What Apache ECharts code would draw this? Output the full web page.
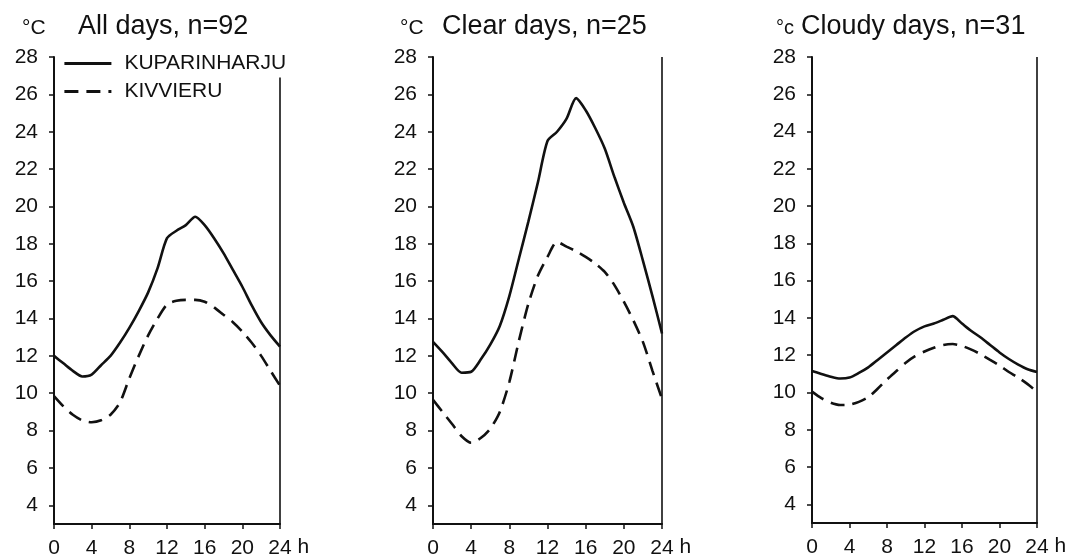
<!DOCTYPE html>
<html>
<head>
<meta charset="utf-8">
<script src="https://cdn.jsdelivr.net/npm/echarts@6/dist/echarts.min.js"></script>
<style>
  html, body { margin: 0; padding: 0; background: #ffffff; }
  #chart { width: 1074px; height: 559px; }
</style>
</head>
<body>
<div id="chart"></div>
<script>
// ---- data ----
const hours = [0,1,2,3,4,5,6,7,8,9,10,11,12,13,14,15,16,17,18,19,20,21,22,23,24];

const allKuparinharju   = [12.0,11.6,11.2,10.9,11.0,11.5,12.0,12.7,13.5,14.4,15.4,16.7,18.3,18.7,19.0,19.45,19.0,18.3,17.5,16.6,15.7,14.7,13.8,13.1,12.5];
const allKivvieru       = [9.85,9.3,8.85,8.55,8.45,8.55,8.85,9.5,10.8,12.0,13.1,14.0,14.75,14.95,15.0,15.0,14.9,14.6,14.2,13.8,13.3,12.7,12.0,11.2,10.4];

const clearKuparinharju = [12.75,12.2,11.6,11.1,11.15,11.8,12.6,13.6,15.2,17.2,19.2,21.3,23.5,24.0,24.7,25.8,25.15,24.2,23.1,21.6,20.2,18.9,17.1,15.2,13.2];
const clearKivvieru     = [9.65,9.0,8.35,7.7,7.35,7.6,8.1,9.0,10.6,12.8,14.8,16.3,17.3,18.1,17.85,17.6,17.3,16.95,16.5,15.8,14.9,13.9,12.75,11.2,9.7];

const cloudyKuparinharju = [11.15,11.0,10.85,10.75,10.8,11.05,11.35,11.75,12.15,12.55,12.95,13.3,13.55,13.7,13.9,14.1,13.7,13.3,12.95,12.55,12.15,11.8,11.5,11.25,11.1];
const cloudyKivvieru     = [10.05,9.7,9.45,9.33,9.35,9.5,9.75,10.2,10.7,11.15,11.6,11.95,12.2,12.4,12.55,12.6,12.5,12.3,12.05,11.75,11.45,11.1,10.8,10.45,10.05];

const seriesNames = ['KUPARINHARJU', 'KIVVIERU'];
const panelTitles = ['All days, n=92', 'Clear days, n=25', 'Cloudy days, n=31'];
const unitLabels  = ['°C', '°C', '°c'];
const yTickValues = [4,6,8,10,12,14,16,18,20,22,24,26,28];
const rightEdgeTop = [26.9, 28, 28];

// ---- layout ----
const grids = [
  { left: 54,  top: 57, width: 226, height: 468 },
  { left: 433, top: 57, width: 229, height: 467 },
  { left: 812, top: 57, width: 225, height: 466 }
];
const titleLeft = [78, 442, 801];
const unitLeft  = [22, 400, 776];

const FONT = '"Liberation Sans", Arial, Helvetica, sans-serif';
const INK = '#111111';

const panels = [
  [allKuparinharju, allKivvieru],
  [clearKuparinharju, clearKivvieru],
  [cloudyKuparinharju, cloudyKivvieru]
];

function pairs(vals) { return hours.map((h, i) => [h, vals[i]]); }

const xAxes = [], yAxes = [], series = [], titles = [];
grids.forEach((g, i) => {
  xAxes.push({
    type: 'value', gridIndex: i, min: 0, max: 24, interval: 4,
    name: 'h', nameLocation: 'end', nameGap: 12,
    nameTextStyle: { fontFamily: FONT, fontSize: 21, color: INK, verticalAlign: 'top', padding: [13, 0, 0, 0] },
    axisLine: { show: true, onZero: false, lineStyle: { color: INK, width: 2 } },
    axisTick: { show: true, inside: false, length: 5, lineStyle: { color: INK, width: 1.5 } },
    axisLabel: { fontFamily: FONT, fontSize: 21, color: INK, margin: 14 },
    splitLine: { show: false }
  });
  yAxes.push({
    type: 'value', gridIndex: i, min: 3, max: 28,
    axisLine: { show: true, lineStyle: { color: INK, width: 2 } },
    axisTick: { show: true, length: 5, customValues: yTickValues, lineStyle: { color: INK, width: 1.5 } },
    axisLabel: { fontFamily: FONT, fontSize: 21, color: INK, margin: 16, customValues: yTickValues },
    splitLine: { show: false }
  });
  panels[i].forEach((vals, k) => {
    const s = {
      name: seriesNames[k], type: 'line', xAxisIndex: i, yAxisIndex: i,
      data: pairs(vals), symbol: 'none', smooth: 0.25, silent: true,
      lineStyle: { color: INK, width: 2.6, type: k === 0 ? 'solid' : [14, 8] },
      itemStyle: { color: INK }
    };
    if (k === 0) {
      s.markLine = {
        silent: true, symbol: 'none', label: { show: false },
        lineStyle: { color: INK, width: 1.6, type: 'solid' },
        data: [[{ coord: [24, rightEdgeTop[i]] }, { coord: [24, 3] }]]
      };
    }
    series.push(s);
  });
  titles.push({
    text: panelTitles[i], left: titleLeft[i], top: 13, padding: 0,
    textStyle: { fontFamily: FONT, fontSize: 27, fontWeight: 'normal', color: INK }
  });
  titles.push({
    text: unitLabels[i], left: unitLeft[i], top: 18, padding: 0,
    textStyle: { fontFamily: FONT, fontSize: i === 2 ? 20 : 21, fontWeight: 'normal', color: INK }
  });
});

const chart = echarts.init(document.getElementById('chart'), null, { renderer: 'canvas' });
chart.setOption({
  backgroundColor: '#ffffff',
  animation: false,
  title: titles,
  grid: grids,
  xAxis: xAxes,
  yAxis: yAxes,
  legend: {
    orient: 'vertical', left: 63, top: 53, padding: 0,
    itemWidth: 47, itemHeight: 14, itemGap: 7,
    data: seriesNames,
    itemStyle: { opacity: 0 },
    lineStyle: { width: 2.8 },
    textStyle: { fontFamily: FONT, fontSize: 21, color: INK, padding: [0, 0, 0, 8] },
    selectedMode: false
  },
  series: series
});
</script>
</body>
</html>
